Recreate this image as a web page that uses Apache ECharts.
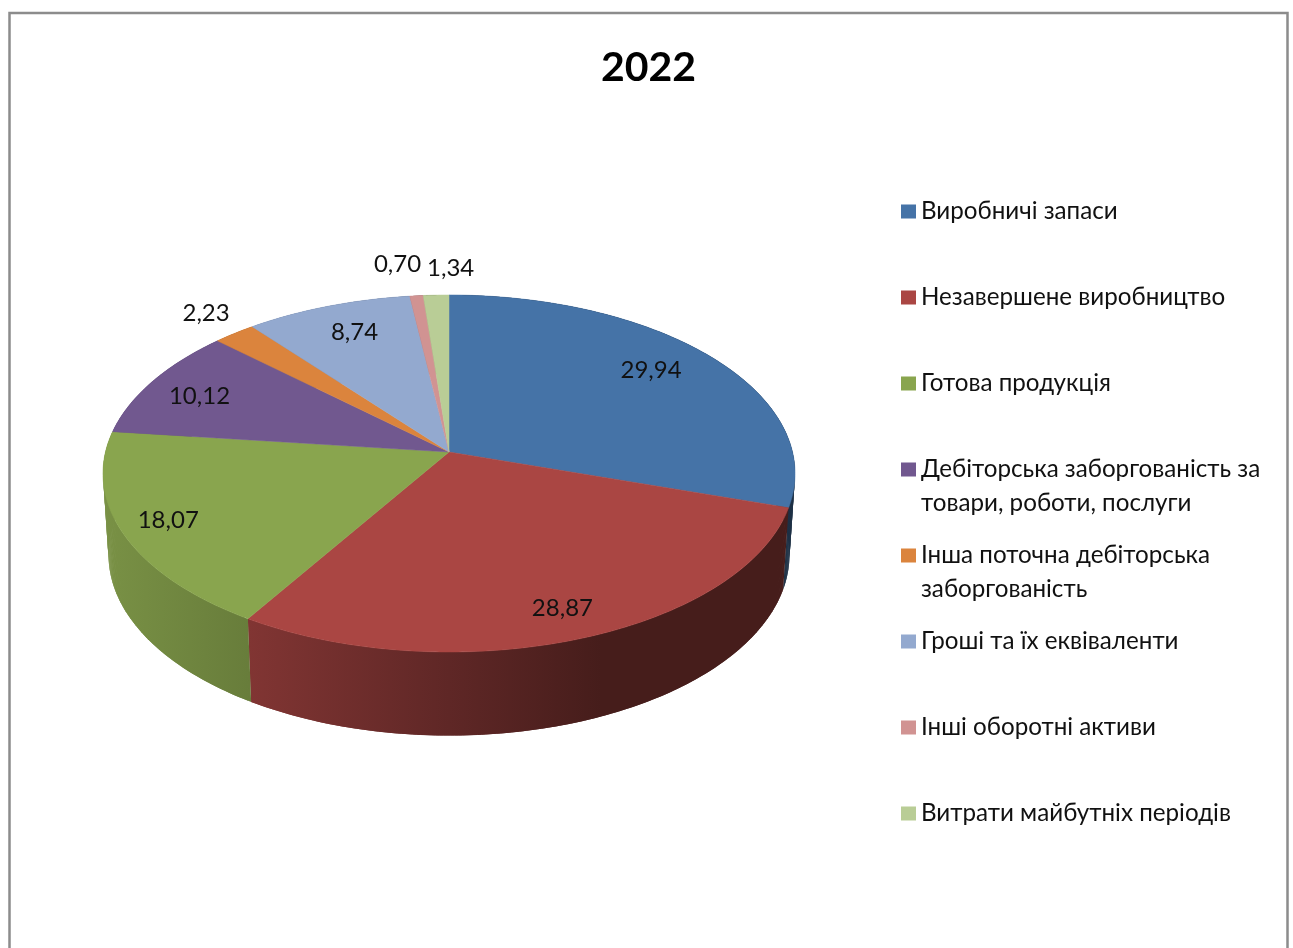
<!DOCTYPE html>
<html>
<head>
<meta charset="utf-8">
<title>2022</title>
<style>
  html, body { margin: 0; padding: 0; background: #fff; overflow: hidden; }
  #chart { width: 1293px; height: 948px; }
</style>
<script src="https://cdn.jsdelivr.net/npm/echarts@6/dist/echarts.min.js"></script>
</head>
<body>
<div id="chart"></div>
<script>
const chartTitle = '2022'
const categories = [
  'Виробничі запаси',
  'Незавершене виробництво',
  'Готова продукція',
  'Дебіторська заборгованість за товари, роботи, послуги',
  'Інша поточна дебіторська заборгованість',
  'Гроші та їх еквіваленти',
  'Інші оборотні активи',
  'Витрати майбутніх періодів'
]
const values = [29.94, 28.87, 18.07, 10.12, 2.23, 8.74, 0.70, 1.34]
const colors = ['#4573A7', '#AA4643', '#89A54E', '#71588F', '#DB843D', '#93A9CF', '#D19392', '#B9CD96']

// how far each value label was dragged from its default spot, px
const labelNudge = [[17, -13], [23, 31], [-56, 13], [-39, -6], [-89, -54], [-7, -15], [-28, -75], [11, -70]]

const FONT = '"Lato", "Open Sans", sans-serif'
const total = values.reduce((sum, v) => sum + v, 0)

// perspective of the tilted disc: unit circle -> screen
const topFace = { cx: 449, cy: 452, k: 343.5, c: 121.5, b: -0.1204 }
const bottomFace = { cx: 449, cy: 533, k: 338, c: 114, b: -0.1204 }

const project = (face, angle, r) => {
  const x = r * Math.sin(angle)
  const y = -r * Math.cos(angle)
  const w = 1 + face.b * y
  return [face.cx + (face.k * x) / w, (face.cy + face.c * y) / w]
}

const arcPoints = (face, from, to) => {
  const steps = Math.max(2, Math.ceil((to - from) / 0.01))
  const points = []
  for (let i = 0; i <= steps; i++) {
    points.push(project(face, from + ((to - from) * i) / steps, 1))
  }
  return points
}

const shade = (hex, f) => {
  const n = parseInt(hex.slice(1), 16)
  const ch = (s) => Math.round(((n >> s) & 255) * f)
  return `rgb(${ch(16)},${ch(8)},${ch(0)})`
}

// side wall gets darker left to right, same light for every slice
const wallFill = (hex) => new echarts.graphic.LinearGradient(103, 0, 795, 0, [
  { offset: 0, color: shade(hex, 0.88) },
  { offset: 0.21, color: shade(hex, 0.76) },
  { offset: 0.5, color: shade(hex, 0.56) },
  { offset: 0.72, color: shade(hex, 0.41) },
  { offset: 1, color: shade(hex, 0.41) }
], true)

// wall as thin strips so the outline follows the disc edge at the sides,
// each strip overlaps the next to hide seams
const wallStrips = (from, to, fill) => {
  const upper = arcPoints(topFace, from, to)
  const lower = arcPoints(bottomFace, from, to)
  const strips = []
  for (let i = 0; i < upper.length - 1; i++) {
    const j = Math.min(i + 2, upper.length - 1)
    strips.push({
      type: 'polygon',
      z2: 1,
      shape: { points: [upper[i], upper[j], lower[j], lower[i]] },
      style: { fill }
    })
  }
  return strips
}

const renderSlice = (index) => () => {
  const before = values.slice(0, index).reduce((sum, v) => sum + v, 0)
  const from = (before / total) * Math.PI * 2
  const to = ((before + values[index]) / total) * Math.PI * 2
  const mid = (from + to) / 2

  const face = [[topFace.cx, topFace.cy]].concat(arcPoints(topFace, from, to))
  const anchor = project(topFace, mid, 0.7)

  return {
    type: 'group',
    children: wallStrips(from, to, wallFill(colors[index])).concat([
      {
        type: 'polygon',
        z2: 10,
        shape: { points: face },
        style: { fill: colors[index], stroke: colors[index], lineWidth: 0.5 }
      },
      {
        type: 'text',
        z2: 20,
        x: anchor[0] + labelNudge[index][0],
        y: anchor[1] + labelNudge[index][1],
        style: {
          text: values[index].toFixed(2).replace('.', ','),
          align: 'center',
          verticalAlign: 'middle',
          fill: '#111',
          font: `24px ${FONT}`
        }
      }
    ])
  }
}

// legend rows are all two lines tall, long names wrap at 30 chars
const wrapName = (name) => {
  const lines = ['']
  name.split(' ').forEach((word) => {
    const last = lines[lines.length - 1]
    if (last && (last + ' ' + word).length > 30) lines.push(word)
    else lines[lines.length - 1] = last ? last + ' ' + word : word
  })
  return lines.length > 1 ? lines.join('\n') : lines[0] + '\n '
}

const chart = echarts.init(document.getElementById('chart'), null, { renderer: 'canvas' })

chart.setOption({
  animation: false,
  backgroundColor: '#fff',
  graphic: [
    {
      type: 'rect',
      silent: true,
      shape: { x: 9.5, y: 13, width: 1278, height: 960 },
      style: { fill: 'none', stroke: '#8c8c8c', lineWidth: 2.5 }
    }
  ],
  title: {
    text: chartTitle,
    left: 596,
    top: 42,
    textStyle: { fontFamily: FONT, fontSize: 41, fontWeight: 'bold', color: '#000' }
  },
  legend: {
    orient: 'vertical',
    left: 901,
    top: 194.5,
    padding: 0,
    itemGap: 18,
    itemWidth: 15,
    itemHeight: 48,
    symbolKeepAspect: false,
    // marker sits on the first text line, the far line stretches the icon box
    icon: 'path://M0 0H15V14H0ZM0 48L15 48',
    selectedMode: false,
    formatter: wrapName,
    textStyle: { fontFamily: FONT, fontSize: 24.2, lineHeight: 34, color: '#111' },
    data: categories
  },
  series: categories.map((name, i) => ({
    type: 'custom',
    name,
    coordinateSystem: 'none',
    silent: true,
    itemStyle: { color: colors[i] },
    renderItem: renderSlice(i),
    data: [values[i]]
  }))
})
</script>
</body>
</html>
